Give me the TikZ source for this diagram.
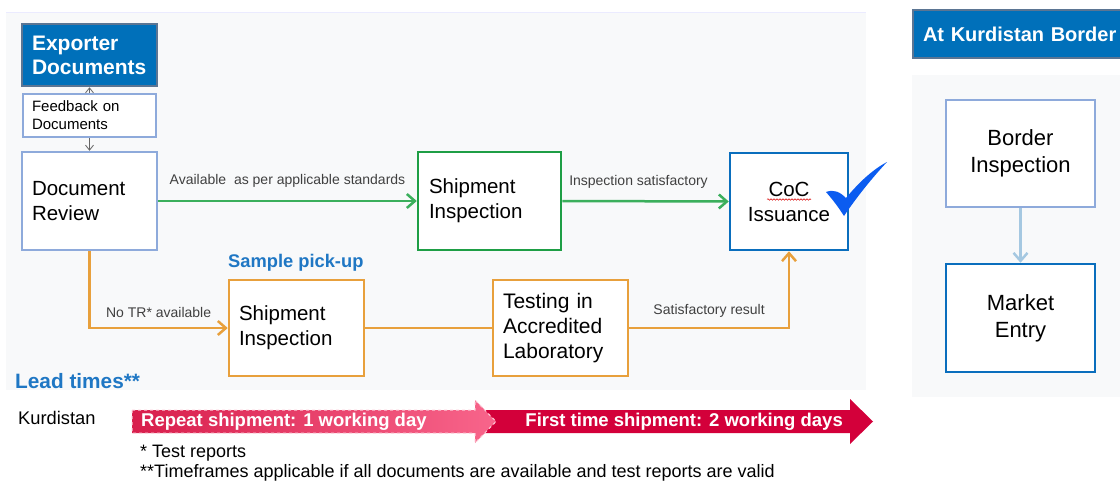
\documentclass[tikz,border=0pt]{standalone}
\usepackage{fontspec}
\setmainfont{Liberation Sans}
\usepackage{xcolor}
\usetikzlibrary{shapes,arrows.meta,positioning,calc,decorations.pathmorphing}

\definecolor{docblue}{HTML}{0070BA}
\definecolor{docedge}{HTML}{5B7593}
\definecolor{paleblue}{HTML}{8EAADB}
\definecolor{cocblue}{HTML}{0A6EBD}
\definecolor{insgreen}{HTML}{1E9E45}
\definecolor{arrgreen}{HTML}{3BAF5C}
\definecolor{smporange}{HTML}{E8A03C}
\definecolor{paneltint}{HTML}{F8F9FA}
\definecolor{headblue}{HTML}{1F77C4}
\definecolor{labelgray}{HTML}{404040}
\definecolor{leadpink}{HTML}{F8658B}
\definecolor{leaddeep}{HTML}{D81E4C}
\definecolor{leadred}{HTML}{D3003A}
\definecolor{tickblue}{HTML}{0B5CF0}
\definecolor{linkblue}{HTML}{A5C8E1}

\tikzset{
    stagebox/.style={draw, line width=2.5pt, fill=white, inner xsep=10pt, inner ysep=0pt,
        align=left, font=\fontsize{20.5}{25}\selectfont},
    edgetext/.style={font=\fontsize{14}{16}\selectfont, text=labelgray, inner sep=0pt},
    flowline/.style={line width=2.5pt, -{Straight Barb[length=8pt,width=14pt,line width=2.5pt]}}
}

\begin{document}
\begin{tikzpicture}[x=1pt,y=-1pt]
            \useasboundingbox (0,0) rectangle (1120,482);
            % panels
            \fill[paneltint] (6,12) rectangle (866,390);
            \draw[blue!8, line width=1pt] (6,12) -- (866,12);
            \fill[paneltint] (912,75) rectangle (1120,397);
            % left column: documents
            \node[stagebox, fill=docblue, draw=docedge, text=white, text width=115pt, minimum height=62pt,
                font=\fontsize{21}{24}\selectfont\bfseries] (expdoc) at (89.5,55) {Exporter\\Documents};
            \node[stagebox, draw=paleblue, text width=115pt, minimum height=43pt, inner xsep=9pt,
                font=\fontsize{15}{18}\selectfont] (feedback) at (89.5,115.5) {Feedback on\\Documents};
            \node[stagebox, draw=paleblue, text width=115pt, minimum height=98pt] (docrev) at (89.5,201) {Document\\Review};
            \draw[gray!80!black, line width=0.8pt, -{Straight Barb[length=5pt,width=8pt]}] (feedback.north) -- (expdoc.south);
            \draw[gray!80!black, line width=0.8pt, -{Straight Barb[length=5pt,width=8pt]}] (feedback.south) -- (docrev.north);
            % top row
            \node[stagebox, draw=insgreen, text width=121pt, inner xsep=11pt, minimum height=98pt] (shipins) at (489.5,201) {Shipment\\Inspection};
            \node[stagebox, draw=cocblue, text width=98pt, align=center, minimum height=97pt] (coc) at (789,201.5) {CoC\\Issuance};
            \draw[red!85!black, line width=0.5pt, decorate, decoration={snake, segment length=3pt, amplitude=0.8pt}] (767,199.5) -- (811,199.5);
            \draw[flowline, arrgreen] (docrev.east) -- node[edgetext, above=12pt] {Available~ as per applicable standards} (shipins.west);
            \draw[flowline, arrgreen] (shipins.east) -- node[edgetext, above=12pt, xshift=-7pt] {Inspection satisfactory} (coc.west);
            % tick
            \fill[tickblue] (826,192) .. controls (834,189) and (840,192) .. (846,198)
                .. controls (856,186) and (870,171) .. (887,162)
                .. controls (872,178) and (856,198) .. (844,216)
                .. controls (839,208) and (833,200) .. cycle;
            % bottom row
            \node[anchor=west, inner sep=0pt, text=headblue, font=\fontsize{18.3}{20}\selectfont\bfseries] (pickup) at (228,263) {Sample pick-up};
            \node[stagebox, draw=smporange, text width=115pt, inner xsep=10pt, minimum height=96pt] (smpins) at (296.5,328) {Shipment\\Inspection};
            \node[stagebox, draw=smporange, text width=115pt, inner xsep=10pt, minimum height=96pt,
                font=\fontsize{21}{25}\selectfont] (testlab) at (560.5,328) {Testing in\\Accredited\\Laboratory};
            \draw[flowline, smporange] (docrev.south) |- node[edgetext, pos=0.75, above=9pt] {No TR* available} (smpins.west);
            \draw[smporange, line width=2.5pt] (smpins.east) -- (testlab.west);
            \draw[flowline, smporange] (testlab.east) -| node[edgetext, pos=0.25, above=9pt] {Satisfactory result} (coc.south);
            % lead times
            \node[anchor=west, inner sep=0pt, text=headblue, font=\fontsize{20.8}{22}\selectfont\bfseries] (leadtime) at (15,381) {Lead times**};
            \node[anchor=west, inner sep=0pt, font=\fontsize{18.3}{20}\selectfont] (region) at (18,418) {Kurdistan};
            \fill[leadred] (480,410) -- (850,410) -- (850,399) -- (873,421.5) -- (850,444) -- (850,433) -- (480,433) -- cycle;
            \shade[left color=leaddeep, right color=leadpink] (132,410) -- (475,410) -- (475,400) -- (496,421.5) -- (475,443) -- (475,433) -- (132,433) -- cycle;
            \draw[white!65!leadpink, line width=1pt, dashed] (132,410) -- (475,410) -- (475,400) -- (496,421.5) -- (475,443) -- (475,433) -- (132,433) -- cycle;
            \node[anchor=west, inner sep=0pt, text=white, font=\fontsize{18.5}{20}\selectfont\bfseries] (repeat) at (141,421.5) {Repeat shipment: 1 working day};
            \node[anchor=east, inner sep=0pt, text=white, font=\fontsize{18.5}{20}\selectfont\bfseries] (first) at (843,421.5) {First time shipment: 2 working days};
            \node[anchor=west, inner sep=0pt, font=\fontsize{18}{20}\selectfont] (note1) at (140,453) {* Test reports};
            \node[anchor=west, inner sep=0pt, font=\fontsize{18}{20}\selectfont] (note2) at (140,473) {**Timeframes applicable if all documents are available and test reports are valid};
            % border column
            \node[anchor=west, fill=docblue, draw=docedge, line width=2pt, minimum height=48pt,
                text width=205pt, inner xsep=10pt, align=left, text=white, font=\fontsize{20}{22}\selectfont\bfseries] (border) at (912,34) {At Kurdistan Border};
            \node[stagebox, draw=paleblue, text width=129pt, align=center, minimum height=107pt,
                font=\fontsize{22}{27}\selectfont] (bordins) at (1020.5,153.5) {Border\\Inspection};
            \node[stagebox, draw=cocblue, text width=129pt, align=center, minimum height=108pt,
                font=\fontsize{22}{27}\selectfont] (market) at (1020.5,318) {Market\\Entry};
            \draw[flowline, linkblue] (bordins.south) -- (market.north);
\end{tikzpicture}
\end{document}
